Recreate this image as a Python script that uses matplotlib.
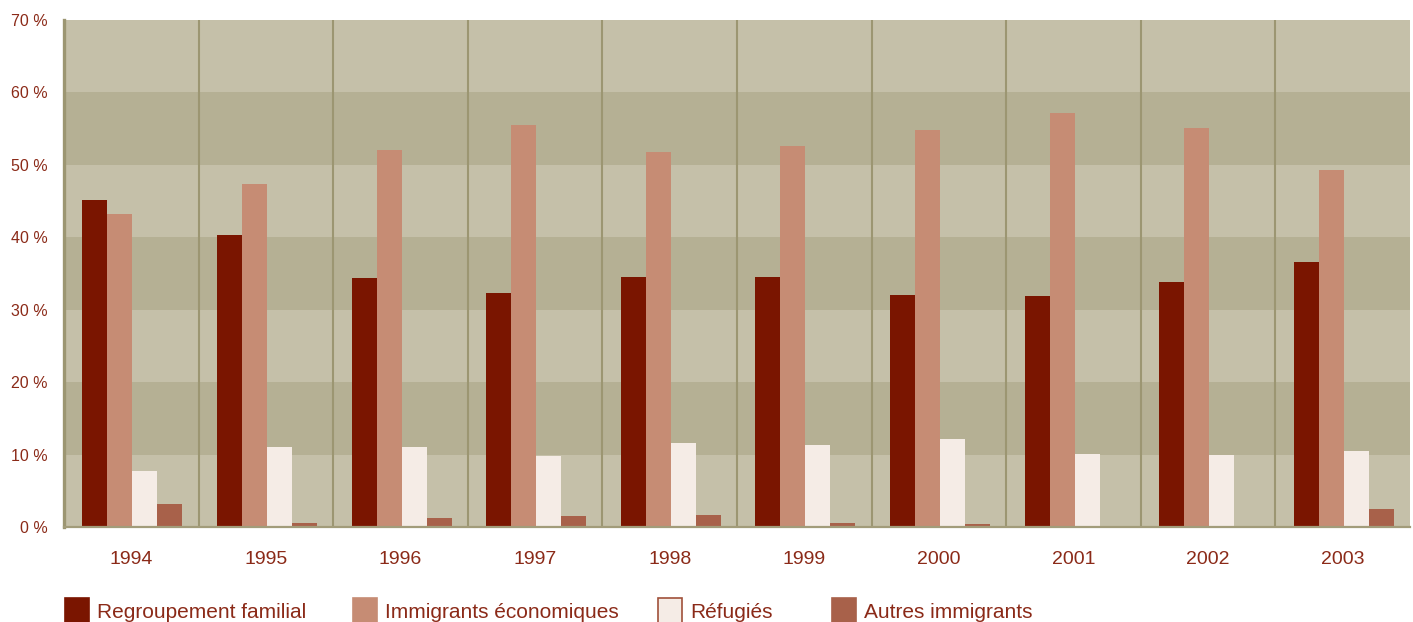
import matplotlib
matplotlib.use("Agg")
import matplotlib.pyplot as plt
from matplotlib.patches import Rectangle
import numpy as np

years = ["1994", "1995", "1996", "1997", "1998", "1999", "2000", "2001", "2002", "2003"]
series_names = ["Regroupement familial", "Immigrants économiques", "Réfugiés", "Autres immigrants"]
familial = [45.1, 40.3, 34.4, 32.3, 34.5, 34.5, 32.0, 31.9, 33.8, 36.6]
economiques = [43.2, 47.4, 52.0, 55.5, 51.8, 52.6, 54.8, 57.2, 55.1, 49.3]
refugies = [7.7, 11.1, 11.0, 9.8, 11.6, 11.3, 12.1, 10.1, 9.9, 10.5]
autres = [3.2, 0.55, 1.3, 1.5, 1.65, 0.55, 0.4, 0.0, 0.0, 2.5]
yticks = [0, 10, 20, 30, 40, 50, 60, 70]

colors = ["#7A1500", "#C68C74", "#F5ECE6", "#A8614A"]
txt = "#8B2A18"
band_light = "#C5C0A9"
band_dark = "#B5B094"
grid_c = "#9C9672"

plt.rcParams["font.family"] = ["Liberation Sans", "DejaVu Sans"]

fig = plt.figure(figsize=(14.13, 6.22), dpi=100)
ax = fig.add_axes([64 / 1413, 1 - 527 / 622, (1410 - 64) / 1413, (527 - 20) / 622])
ax.set_xlim(-0.5, len(years) - 0.5)
ax.set_ylim(0, 70)
ax.set_facecolor(band_light)
for i, lo in enumerate(range(0, 70, 10)):
    ax.axhspan(lo, lo + 10, color=band_light if i % 2 == 0 else band_dark, lw=0, zorder=0)
for b in np.arange(0.5, len(years) - 0.5, 1.0):
    ax.axvline(b, color=grid_c, lw=1.5, zorder=1)

x = np.arange(len(years))
w = 0.186
data = [familial, economiques, refugies, autres]
for k, (vals, c) in enumerate(zip(data, colors)):
    ax.bar(x + (k - 1.5) * w + 0.008, vals, width=w, color=c, lw=0, zorder=2)

for s in ["top", "right"]:
    ax.spines[s].set_visible(False)
ax.spines["left"].set_color(grid_c)
ax.spines["left"].set_linewidth(2.4)
ax.spines["bottom"].set_color("#A29C7A")
ax.spines["bottom"].set_linewidth(1.6)

ax.set_yticks(yticks)
ax.set_yticklabels([f"{v} %" for v in yticks], color=txt, fontsize=11.5)
ax.set_xticks(x)
ax.set_xticklabels(years, color=txt, fontsize=14)
ax.tick_params(axis="both", length=0)
ax.tick_params(axis="y", pad=12)
ax.tick_params(axis="x", pad=17)

# legend
leg_x = [65, 353, 658, 832]
for lx, name, c in zip(leg_x, series_names, colors):
    ec = "#A0503A" if c == "#F5ECE6" else c
    fig.add_artist(Rectangle((lx / 1413, 1 - 625 / 622), 24 / 1413, 27 / 622,
                             transform=fig.transFigure, facecolor=c, edgecolor=ec, lw=1.2))
    fig.text((lx + 32) / 1413, 1 - 613 / 622, name, color=txt, fontsize=15,
             va="center", ha="left")

fig.savefig("out.png", dpi=100)
